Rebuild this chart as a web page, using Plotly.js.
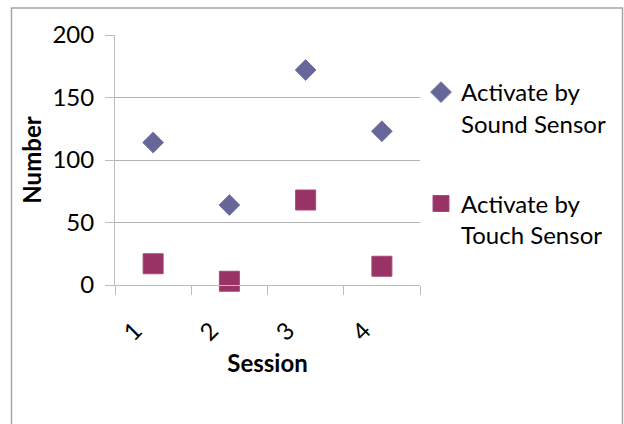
<!DOCTYPE html>
<html><head><meta charset="utf-8">
<script src="https://cdn.plot.ly/plotly-3.0.1.min.js"></script>
<style>html,body{margin:0;padding:0;background:#fff}#chart{width:624px;height:424px}</style>
</head><body><div id="chart"></div>
<script>
const sessions = ['1', '2', '3', '4'];
const soundSensor = [114, 64, 172, 123];
const touchSensor = [17, 3, 68, 15];
const soundName = 'Activate by<br>Sound Sensor';
const touchName = 'Activate by<br>Touch Sensor';
const yTickVals = [0, 50, 100, 150, 200];
const xTitle = 'Session';
const yTitle = 'Number';

const FONT = 'Lato, "Noto Sans", sans-serif';
const FS = 24;
const gridCol = '#b3b3b3';
const axisCol = '#bdbdbd';

const traces = [
  {
    x: sessions, y: soundSensor, name: soundName, type: 'scatter', mode: 'markers',
    legendgroup: 'a', cliponaxis: false,
    marker: {symbol: 'diamond', size: 16, color: '#666699', line: {color: '#7a7aa8', width: 1}}
  },
  {
    x: sessions, y: touchSensor, name: touchName, type: 'scatter', mode: 'markers',
    legendgroup: 'b', cliponaxis: false,
    marker: {symbol: 'square', size: 20, color: '#993366', line: {color: '#a8477a', width: 1}}
  }
];

const layout = {
  width: 624, height: 424,
  margin: {l: 115, r: 204, t: 35, b: 139, pad: 0},
  paper_bgcolor: '#ffffff', plot_bgcolor: '#ffffff',
  font: {family: FONT, size: FS, color: '#000000'},
  showlegend: true,
  legend: {
    xref: 'container', yref: 'container',
    x: 421 / 624, xanchor: 'left',
    y: 1 - 70 / 424, yanchor: 'top',
    valign: 'top', tracegroupgap: 46,
    font: {family: FONT, size: FS, color: '#000'},
    bgcolor: 'rgba(0,0,0,0)', borderwidth: 0
  },
  xaxis: {
    type: 'category', range: [-0.5, 3.5],
    tickson: 'boundaries', ticks: 'outside', ticklen: 9, tickcolor: axisCol, tickwidth: 1,
    showline: true, linecolor: axisCol, linewidth: 1,
    showgrid: false, zeroline: false,
    tickangle: -45, ticklabelshift: -18, ticklabelstandoff: 21,
    tickfont: {family: FONT, size: FS, color: '#000'},
    title: {text: xTitle, font: {family: FONT, size: FS, color: '#000', weight: 'bold'}, standoff: 10}
  },
  yaxis: {
    range: [0, 200], tickvals: yTickVals, ticktext: yTickVals.map(String),
    ticks: 'outside', ticklen: 9, tickcolor: axisCol, tickwidth: 1,
    showline: true, linecolor: axisCol, linewidth: 1,
    showgrid: true, gridcolor: gridCol, gridwidth: 1, zeroline: false,
    ticklabelstandoff: 6,
    tickfont: {family: FONT, size: FS, color: '#000'},
    title: {text: yTitle, font: {family: FONT, size: FS, color: '#000', weight: 'bold'}, standoff: 4}
  },
  shapes: [{
    type: 'rect', xref: 'paper', yref: 'paper',
    x0: (11.5 - 115) / 305, x1: (622.5 - 115) / 305,
    y0: -1, y1: (285.5 - 8.5) / 250,
    line: {color: '#a6a6a6', width: 1.5}, fillcolor: 'rgba(0,0,0,0)', layer: 'below'
  }]
};

Plotly.newPlot('chart', traces, layout, {displayModeBar: false, staticPlot: true});
</script>
</body></html>
